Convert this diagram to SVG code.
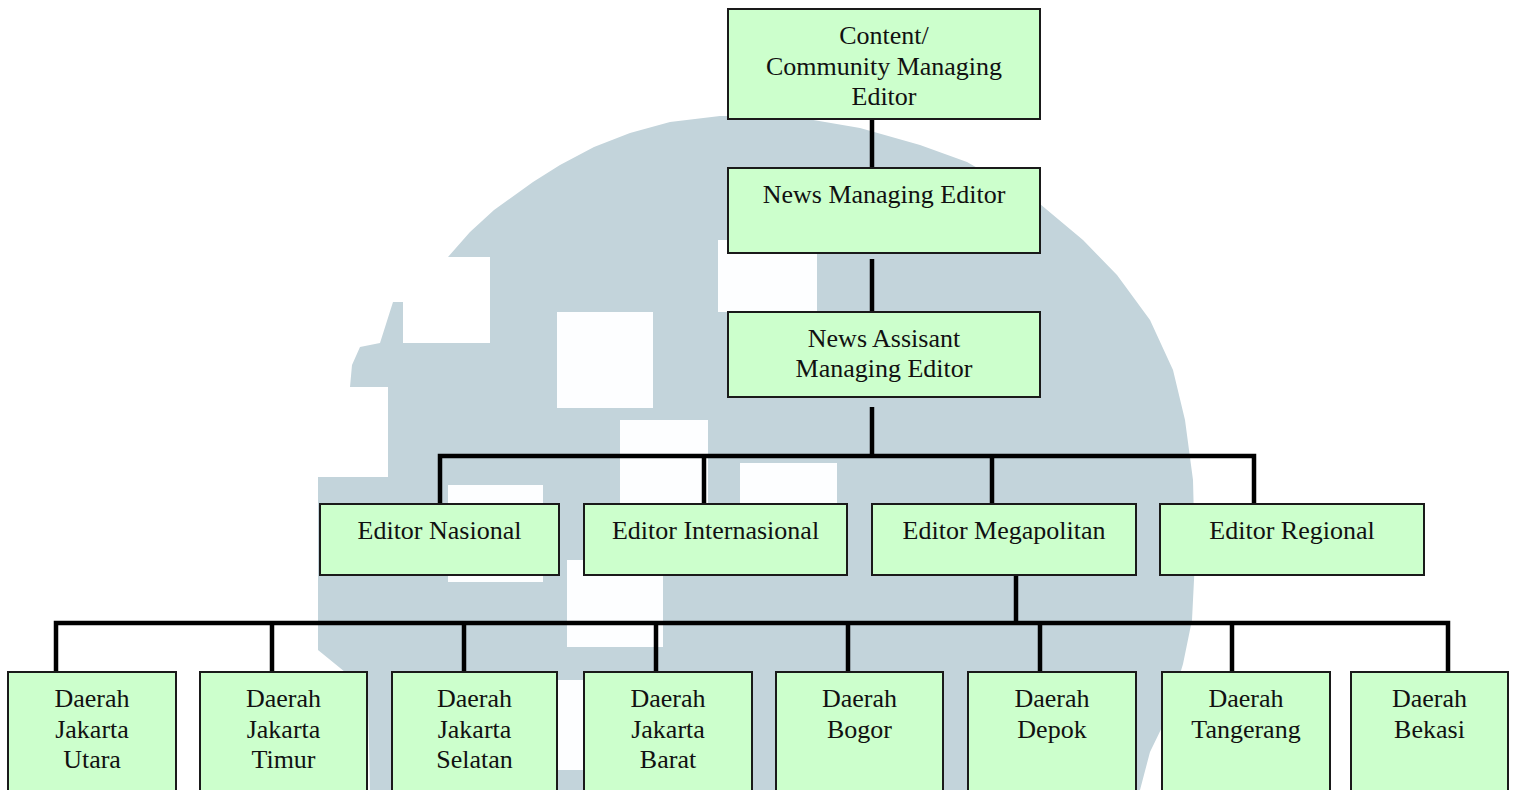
<svg xmlns="http://www.w3.org/2000/svg" width="1515" height="790" viewBox="0 0 1515 790">
  <style>
    .box { fill: #ccffcc; stroke: #1a1a1a; stroke-width: 2; }
    .lbl { font-family: "Liberation Serif", "Times New Roman", serif; font-size: 26px; fill: #111; text-anchor: middle; }
    .wire { fill: none; stroke: #000; stroke-width: 4.5; stroke-linejoin: miter; stroke-linecap: butt; }
    .mark { fill: #c3d4db; }
    .hole { fill: #fdfeff; }
  </style>

  <rect x="0" y="0" width="1515" height="790" fill="#ffffff"/>

  <!-- faint background emblem -->
  <g id="emblem">
    <path class="mark" d="M448 257 L470 232 L494 210 L533 182 L560 165 L594 147 L630 133 L670 122 L720 116 L790 116 L860 128 L920 145 L967 162 L1040 204 L1083 240 L1117 275 L1150 320 L1173 370 L1185 420 L1193 480 L1195 560 L1192 620 L1183 664 L1167 717 L1150 752 L1140 790 L370 790 L368 700 L345 672 L318 650 L318 477 L388 477 L388 387 L350 387 L352 365 L360 347 L380 343 L393 302 L403 302 L403 343 L490 343 L490 257 Z"/>
    <rect class="hole" x="557" y="312" width="96" height="96"/>
    <rect class="hole" x="620" y="420" width="88" height="90"/>
    <rect class="hole" x="740" y="463" width="97" height="80"/>
    <rect class="hole" x="448" y="485" width="95" height="97"/>
    <rect class="hole" x="567" y="560" width="96" height="87"/>
    <rect class="hole" x="557" y="680" width="96" height="90"/>
    <rect class="hole" x="718" y="240" width="99" height="72"/>
  </g>

  <!-- reporting lines -->
  <g id="connectors">
    <path class="wire" d="M872 119 V168"/>
    <path class="wire" d="M872 259 V312"/>
    <path class="wire" d="M872 407 V456"/>
    <path class="wire" d="M440 504 V456 H1254 V504"/>
    <path class="wire" d="M704 456 V504"/>
    <path class="wire" d="M992 456 V504"/>
    <path class="wire" d="M1016 575 V623"/>
    <path class="wire" d="M56 672 V623 H1448 V672"/>
    <path class="wire" d="M272 623 V672"/>
    <path class="wire" d="M464 623 V672"/>
    <path class="wire" d="M656 623 V672"/>
    <path class="wire" d="M848 623 V672"/>
    <path class="wire" d="M1040 623 V672"/>
    <path class="wire" d="M1232 623 V672"/>
  </g>

  <g id="content-community-managing-editor">
    <rect class="box" x="728" y="9" width="312" height="110"/>
    <text class="lbl" x="884" y="44">Content/</text>
    <text class="lbl" x="884" y="75">Community Managing</text>
    <text class="lbl" x="884" y="105">Editor</text>
  </g>

  <g id="news-managing-editor">
    <rect class="box" x="728" y="168" width="312" height="85"/>
    <text class="lbl" x="884" y="203">News Managing Editor</text>
  </g>

  <g id="news-assistant-managing-editor">
    <rect class="box" x="728" y="312" width="312" height="85"/>
    <text class="lbl" x="884" y="347">News Assisant</text>
    <text class="lbl" x="884" y="377">Managing Editor</text>
  </g>

  <g id="editor-nasional">
    <rect class="box" x="320" y="504" width="239" height="71"/>
    <text class="lbl" x="439.5" y="539">Editor Nasional</text>
  </g>

  <g id="editor-internasional">
    <rect class="box" x="584" y="504" width="263" height="71"/>
    <text class="lbl" x="715.5" y="539">Editor Internasional</text>
  </g>

  <g id="editor-megapolitan">
    <rect class="box" x="872" y="504" width="264" height="71"/>
    <text class="lbl" x="1004" y="539">Editor Megapolitan</text>
  </g>

  <g id="editor-regional">
    <rect class="box" x="1160" y="504" width="264" height="71"/>
    <text class="lbl" x="1292" y="539">Editor Regional</text>
  </g>

  <g id="daerah-jakarta-utara">
    <rect class="box" x="8" y="672" width="168" height="130"/>
    <text class="lbl" x="92" y="707">Daerah</text>
    <text class="lbl" x="92" y="738">Jakarta</text>
    <text class="lbl" x="92" y="768">Utara</text>
  </g>

  <g id="daerah-jakarta-timur">
    <rect class="box" x="200" y="672" width="167" height="130"/>
    <text class="lbl" x="283.5" y="707">Daerah</text>
    <text class="lbl" x="283.5" y="738">Jakarta</text>
    <text class="lbl" x="283.5" y="768">Timur</text>
  </g>

  <g id="daerah-jakarta-selatan">
    <rect class="box" x="392" y="672" width="165" height="130"/>
    <text class="lbl" x="474.5" y="707">Daerah</text>
    <text class="lbl" x="474.5" y="738">Jakarta</text>
    <text class="lbl" x="474.5" y="768">Selatan</text>
  </g>

  <g id="daerah-jakarta-barat">
    <rect class="box" x="584" y="672" width="168" height="130"/>
    <text class="lbl" x="668" y="707">Daerah</text>
    <text class="lbl" x="668" y="738">Jakarta</text>
    <text class="lbl" x="668" y="768">Barat</text>
  </g>

  <g id="daerah-bogor">
    <rect class="box" x="776" y="672" width="167" height="130"/>
    <text class="lbl" x="859.5" y="707">Daerah</text>
    <text class="lbl" x="859.5" y="738">Bogor</text>
  </g>

  <g id="daerah-depok">
    <rect class="box" x="968" y="672" width="168" height="130"/>
    <text class="lbl" x="1052" y="707">Daerah</text>
    <text class="lbl" x="1052" y="738">Depok</text>
  </g>

  <g id="daerah-tangerang">
    <rect class="box" x="1162" y="672" width="168" height="130"/>
    <text class="lbl" x="1246" y="707">Daerah</text>
    <text class="lbl" x="1246" y="738">Tangerang</text>
  </g>

  <g id="daerah-bekasi">
    <rect class="box" x="1351" y="672" width="157" height="130"/>
    <text class="lbl" x="1429.5" y="707">Daerah</text>
    <text class="lbl" x="1429.5" y="738">Bekasi</text>
  </g>
</svg>
